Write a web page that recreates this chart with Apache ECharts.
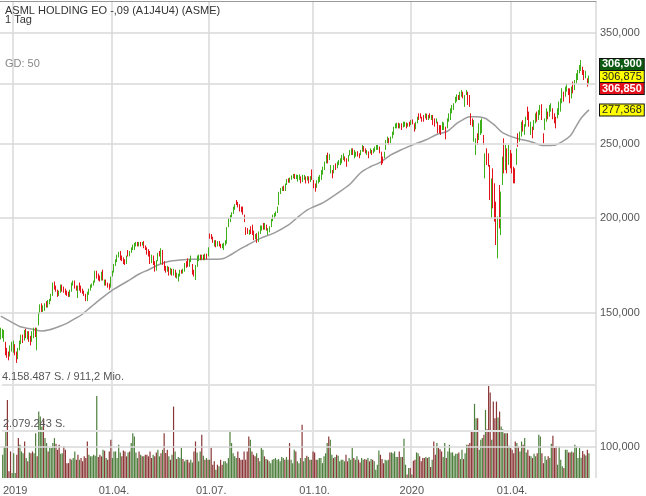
<!DOCTYPE html>
<html><head><meta charset="utf-8">
<script src="https://cdn.jsdelivr.net/npm/echarts@6/dist/echarts.min.js"></script>
<style>html,body{margin:0;padding:0;background:#fff}#c{width:646px;height:496px}</style>
</head><body><div id="c"></div>
<script>
// ---------- texts ----------
const titleText = 'ASML HOLDING EO -,09 (A1J4U4) (ASME)';
const periodText = '1 Tag';
const maLabel = 'GD: 50';
const turnoverText = '911,2 Mio.';

// ---------- calendar ----------
const startDate = '2018-12-14';
const totalSlots = 379;
const holidays = ['2018-12-24','2018-12-25','2018-12-26','2018-12-31','2019-01-01','2019-04-19','2019-04-22','2019-05-01',
  '2019-12-24','2019-12-25','2019-12-26','2019-12-31','2020-01-01','2020-04-10','2020-04-13','2020-05-01'];

// ---------- price axis ticks & tags ----------
const priceTicks = [100, 150, 200, 250, 300, 350];
const hiddenTickLabel = 300;
const tagHigh = 306.900, tagLast = 306.875, tagLow = 306.850, maLast = 277.368;
const volMaxK = 4158.487, volHalfK = 2079.243;

// ---------- daily candles [open, close, low, high] ----------
const ohlc = [
[139.5,142.5,138.5,143.5],[140,142,139,143],[138.5,141.5,137.5,142.5],[137,133,132,137.5],[134,132,131,135],
[133,131,130,133.5],[132,135,131.5,136],[134,137,133.5,137.5],[134,137.5,133,138],[136,133,132,136.5],
[133,130,129,133.5],[131,134.5,130.5,135],[134.5,137.5,134,138],[137,140,136.5,140.5],[140,138,137,140.5],
[138.5,142,138,142.5],[142.5,140,139,143],[139.5,141.5,138.5,142],[141.5,138.5,137.5,142],[139,137.5,136,140],
[138,141,137.5,142],[140,143,139,143.5],[143,140.5,139.5,143.5],[137,143,134,143.5],[145,150,144.5,150.5],
[150,153.5,149.5,154],[154,151.5,150.5,154.5],[151.5,153,150.5,153.5],[152,154,151,154.5],[155,153,152.5,155.5],
[153,155.5,152.5,156],[155,156,154,156.5],[156,158.5,155.5,159],[158.5,164,158,164.5],[164.5,162,161,165],
[162.5,160.5,160,163],[160.5,158.5,157.5,161],[158.5,160,158,160.5],[160,163,159.5,163.5],[163,161,160,163.5],
[161.5,160,159.5,162.5],[160.5,159,158.5,161.5],[160,158.5,158,160.5],[159.5,158,157.5,160],[158,160.5,157.5,161],
[160.5,164,160,164.5],[163.5,165,163,165.5],[165,162,161.5,165.5],[162.5,161,160.5,163],[160,162.5,157,163],
[163,161,160.5,164.5],[162,160,159.5,163],[161,159.5,159,161.5],[160,158.5,158,160.5],[158.5,156,155.5,159],
[156,159.5,155.5,160],[159,161,158.5,161.5],[161,163,160.5,163.5],[162.5,163.5,162,164],[163.5,165,163,165.5],
[165,170,164.5,170.5],[170,167,166.5,170.5],[168,166,165.5,169],[167,165.5,165,168],[166,169.5,165.5,170],
[170.5,166,165.5,171],[163.5,165.5,163,166],[165.5,163.5,163,166],[164,162.5,162,164.5],[163,162,161,164],
[162.5,167,162,167.5],[167.5,170,167.5,170.5],[170,173.5,169.5,174],[173.5,176,173,176.5],[175.5,178.5,175,179],
[178,180,177.5,180.5],[180.5,177,176,181],[178,176,175.5,178.5],[177,175,174,177.5],[176,174,173.5,176.5],
[174.5,178,174,178.5],[180.5,178.5,178,181.5],[178.5,180.5,178,181],[180.5,182.5,180,183],[182,184,181.5,184.5],
[183.5,185,181.5,185.5],[184,185.5,183.5,186],[185.5,184,183.5,186],[184,185.5,183.5,186],[185.5,184.5,183.5,186],
[184.5,185.5,184,186],[186,183,182.5,186.5],[183.5,182,181.5,184],[182.5,179.5,179,183],[181,178.5,178,182],
[180,175,174,181],[175,178,174.5,179],[178,174.5,173.5,178.5],[175,171,170,175.5],[171,175,170.5,176],
[176,179.5,175.5,180],[180,178.5,178,181],[176,182,174,182.5],[181,175,173.5,181.5],[175,171.5,170.5,175.5],
[172,170.5,169.5,173],[170.5,172,170,173],[172,169,168,172.5],[169,171.5,168.5,172],[171,168.5,168,171.5],
[168.5,171,168,171.5],[170.5,168,167,171],[167,169,166.5,169.5],[165.5,168.5,165,169],[168,170.5,167.5,171],
[170.5,169.5,169,171],[169.5,171,169,171.5],[170.5,174,170,174.5],[175,172.5,172,175.5],[175.5,173,172.5,177],
[173,176,172.5,176.5],[175.5,178,175,178.5],[173.5,169,168.5,174],[170,168.5,167.5,171],[167,173,165.8,173.5],
[173,177.5,172.5,178.5],[176,178.5,175.5,179],[178.5,176.5,176,179],[176.5,178.5,176,179],[178.5,176.5,176,179],
[176.5,179,176,179.5],[179,177,176.5,179.5],[178.5,182.5,178,183],[190.5,189,187.8,190.8],[190,188,187.5,190.5],
[188,186,185.5,189],[184,186.5,183.5,187],[186.5,184,183,187],[184,186,183.5,186.5],[186,184,183.5,186.5],
[184.5,183,182.5,185],[183,184.5,182.5,185],[182.5,185,181.5,185.5],[185,186.5,184,187],[185.5,194,185,194.5],
[195,199.5,194.5,200],[199,201,197.5,201.8],[200.5,203,200,203.5],[203,206.5,202.5,207],[206,208,205,208.5],
[210.5,208.5,208,211.2],[209.5,207.5,206.5,210],[208,205.5,204,208.5],[206,204,203.5,207],[206,202.5,202,207],
[201.5,198,197.5,202],[194,190.5,190,194.5],[193,191,190.5,194],[190.5,192.5,190,193],[194,191.5,190.5,195],
[195.5,191,190,196],[192,188,187,192.5],[188,190,187.5,190.5],[190,186,185.5,191],[186.5,191,186,192],
[191,194.5,190.5,195.5],[193.5,195,192.5,195.5],[196.5,193.5,193,197],[193.5,196,193,197],[195.5,193,192.5,196],
[190.5,193.5,190,194],[192,194.5,191.5,195],[195,199,194.5,199.5],[199,201.5,198,202],[200.5,202.5,199.5,203],
[202,203.5,201,204],[203.5,206.5,203,207],[208.5,216,208,216.5],[215.5,218.5,215,219],[217.5,219.5,217,220],
[220,217.5,217,220.5],[217.5,221.5,217,222],[221.5,224.5,221,225],[225,223,222.5,225.5],[223,225.5,222.5,226],
[225,227,224.5,227.5],[226.5,228,225.5,228.5],[227.5,226,225,228.5],[225.5,227.5,225,228],[224,227,223.2,227.8],
[225,227.5,224.4,228.2],[226.5,223,222.1,226.8],[223.5,227,223,227.8],[225,227.5,224.4,227.8],[226.5,223,222,226.8],
[224,226.5,224,227],[226.5,223.5,222,226.8],[223.5,225.5,223,227],[231,225,224.4,231.6],[224,219.5,218.8,224.4],
[221,217.5,216.6,222],[219.5,223.5,219,224.2],[222.5,226,222,226.6],[224,227,223,227.8],[225,230.5,224.4,231.2],
[229.5,233,228,233.5],[232,236.5,231.2,237.2],[236,241.5,235.9,242],[243.5,236.5,235.9,243.7],[239,242,238.3,242.7],
[230,234,228.9,234.7],[231,226.5,225.5,231.2],[229,233.5,228.9,234.7],[235.5,232,231.2,235.9],[233,236,232.4,237.2],
[235,237.5,234.7,238.3],[236.5,239,234.7,239.6],[237,241.5,235.9,242],[240,242.5,238.3,243.2],[240.5,238,237.2,241],
[239,234.5,233.5,239.6],[237.5,241,237.2,242],[242,245,241.5,245.7],[243,246.5,242,246.9],[246.5,243,242,246.9],
[240.5,244.5,239.6,245.7],[242,244,240.8,244.4],[244.4,241.5,240.8,244.8],[243,240,239.6,243.2],[242,245,241.8,245.7],
[245.5,248.5,244.4,249.4],[248.2,245.5,244.4,248.6],[246.5,243.5,243.2,246.9],[242.5,245,242,245.7],[244.4,240.5,239.6,244.6],
[243.2,246.5,243,246.9],[245.5,242.5,242,245.7],[243.5,246.5,243.2,246.9],[245,248,244.4,248.2],[246,249,245.7,249.4],
[246,249,245.7,249.4],[248,244,243.2,248.2],[244,236,234.7,244.4],[240.5,237,235.9,240.8],[240,243.5,239.6,244.4],
[246,252.5,245.7,253.2],[251.5,255,250.7,255.8],[254.5,251,249.4,254.8],[251,255,250.7,255.8],[255,259,254.5,259.7],
[258,263,257.1,263.6],[262.5,265.5,262.3,266.3],[264,266,262.3,266.8],[266,263,262.3,266.8],[263,265.5,262.3,266.3],
[265.5,262,261,266.3],[263,266.5,263,267.6],[265,267,263.6,267.6],[266.8,263.5,262.3,267],[264,266,263.6,266.5],
[267,264.5,263.6,267.6],[265.5,268.5,264.9,269],[268.5,266.5,265.5,269.5],[266,260.5,259.7,266.3],[262,267,261.5,267.6],
[267,271,266.3,271.7],[274,270.5,269,274.5],[273.5,271.5,270.3,274.5],[271.5,268.5,267.6,271.7],[272.5,268.5,267.6,273.1],
[270.5,274,270.3,274.5],[274,270,269,274.2],[270,273,269,273.1],[274,271,270.3,274.5],[270.5,273,269,273.1],
[273,265.5,264.9,273.1],[269.5,264,263.6,270.3],[266.5,270,266.3,270.3],[267.5,259,258.4,267.6],[264,259.5,258.4,264.9],
[264.5,258,257.1,264.9],[261,266.5,261,267.6],[262,266,261,267],[263.5,255.5,253.7,263.6],[262.5,270,262.3,270.3],
[268,274,267.6,274.5],[270,278,269,278.7],[275.5,281,274.5,281.5],[278.5,282.5,277.3,283],[283.5,288,283,288.6],
[285,290,284.4,290.7],[290,286.5,285.8,290.1],[287,292.5,285.8,293],[290,294,288.6,294.6],[293,288,287.2,293],
[281,289.5,279.9,290.1],[290.5,294,290.1,294.6],[293,282.5,281.5,293],[289.5,281,279.9,290.1],[274,266,264.9,274.5],
[269.5,264.5,263.6,270.3],[253,268,251.9,268.9],[243,253.5,242,254.5],[258,250,249.4,258.4],[254,265.5,253.2,266.3],
[259,268,257.1,268.9],[261,269.5,258.4,270.3],[256.5,250,249.4,257.1],[228,242,225.5,243.2],[246.5,236,234.8,246.9],
[242.5,234.5,233.6,243.2],[234,213,211.2,234.8],[203,224,199.8,225.4],[232,207,205.9,232.4],[221,200,197.8,222.1],
[209.5,186,184.3,210.1],[180,200,177,200.8],[220,195,193.8,221],[191,215.5,189.9,216.6],[222,240,221,240.8],
[253.5,230,228.9,254.5],[232,248.5,231.2,249.4],[246,230,228.9,246.9],[236,248.5,234.8,249.4],[245,233.5,232.4,245.7],
[242,230,228.9,243.2],[233,223,222.1,233.6],[231.5,223.5,222.1,232.4],[236,246,234.8,246.9],[258,249.5,248.1,258.4],
[252.5,259,251.9,259.7],[257,267,255.8,267.6],[268.5,260.5,259.7,268.9],[258,265,257.1,265.6],[265,271,263.6,271.7],
[280,270.5,269,280.1],[275.5,265,263.6,275.9],[258,266.5,257.1,267.6],[263,255.5,254.5,263.6],[262,268.5,261,268.9],
[267,274,266.3,274.5],[275.5,268.5,267.6,275.9],[270,276.5,269,277.3],[274.5,281,273.1,281.5],[281.5,270.5,269,282.2],
[258,251.5,250.6,258.4],[262,269.5,261,270.3],[269,278,267.6,278.7],[275.5,270.5,269.6,275.9],[272.5,281,271.7,281.5],
[277,282.5,275.9,283],[278.5,270.5,269.6,278.7],[274,267.5,266.3,274.5],[271,263,262.3,271.7],[271,278,270.3,278.7],
[274.5,283.5,273.1,284.4],[277,286.5,275.9,287.2],[285,295,283,296.1],[293,285.5,284.4,293.1],[290,297,288.7,297.6],
[294,300,293.1,300.6],[296,291,290.1,296.1],[295.5,284.5,283,296.1],[288,297,287.2,297.6],[301.5,292.5,291.6,302.1],
[295.5,303,294.6,303.6],[301.5,309,300.6,309.8],[305,312,303.6,313],[311,316,309.8,317.7],[313.5,321.5,312,322.5],
[316,309,308.3,316.1],[312,305,303.6,313],[306,311.5,305.2,312.2],[305,298.5,297.6,305.2],[300.5,306.875,299.5,307.7]
];

// ---------- daily volume, thousand shares ----------
const volumeK = [
1030,1400,2060,3460,300,1180,220,1100,220,1030, 1770,1475,1180,1100,1620,885,740,1135,1100,1180,
1100,1990,960,2950,2730,2290,2650,1770,1550,1180, 1330,1330,1550,1770,1520,1250,1475,1075,1100,1400,
1250,660,660,855,810,885,1180,810,1030,810, 885,740,960,885,1620,1030,960,960,1030,990,
3640,930,1030,960,1250,1210,885,810,1180,1700, 885,1180,1180,885,1475,1135,960,1225,1180,960,
1135,1180,1550,1990,1840,1135,885,1180,1030,960, 960,1030,1030,960,1180,885,1030,960,1135,1250,
960,1100,1250,1990,1106,1250,960,810,1030,3170, 1180,840,930,885,1330,840,740,810,810,690,
810,690,1180,1620,1135,740,1180,1920,990,810, 885,810,810,1330,590,740,370,590,516,810,
590,740,740,660,885,2060,1550,1100,960,885, 1180,885,810,810,1180,810,1180,1840,1700,1180,
1030,960,1100,885,740,1330,1250,960,840,810, 740,660,810,840,885,810,840,740,930,885,
810,930,810,1550,810,660,1250,1180,740,660, 885,2360,740,885,990,930,810,810,1180,1135,
810,810,885,885,660,960,1100,1550,1840,1700, 1030,885,930,1030,990,740,810,810,740,1030,
740,885,810,1330,885,810,960,810,690,885, 810,840,810,885,740,840,810,740,370,590,
1225,1030,840,660,810,780,810,1135,1135,1100, 1180,930,930,1180,930,930,1740,590,150,440,
440,150,770,810,1135,1100,960,740,885,885, 930,885,930,490,810,1620,1030,1550,1330,1280,
1180,930,1550,885,1180,1475,1135,1135,990,1075, 1075,1135,840,1250,840,1100,1475,1475,1550,2110,
2060,3290,2650,2650,1250,1700,1770,1920,3020,2160, 4158.487,3790,1700,3390,2650,3390,2690,2950,2290,2160,
1990,1990,1990,1430,1330,1250,1100,1620,1550,1400, 1180,1620,1475,1770,1135,1250,990,960,885,1075,
960,1100,1920,1840,1100,660,960,810,960,885, 1520,1870,1330,1400,590,1400,810,516,440,1250,
1250,1135,1135,1180,1135,1475,1400,885,1330,900, 1200,1050,1000,1250,1100
];

// ---------- 50-day average: [day index, value] ----------
const maPoints = [
[0,148.6],[8,145.5],[12,144.0],[21,142.7],[26,142.1],[31,142.6],[37,144.0],[42,145.4],[48,147.8],[51,149.0],
[55,151.4],[59,153.8],[63,156.2],[71,160.8],[80,164.9],[88,168.8],[94,171.0],[100,173.5],[106,175.2],[114,176.1],
[122,176.5],[133,176.5],[141,176.8],[146,178.8],[151,181.5],[157,184.3],[165,188.0],[174,191.2],[183,195.8],[188,199.8],
[195,204.9],[199,206.9],[205,209.5],[214,215.5],[222,221.5],[229,229.5],[235,233.5],[241,236.5],[248,242.0],[254,245.5],
[262,249.5],[270,253.2],[278,257.8],[284,260.0],[290,266.3],[294,269.3],[298,271.7],[303,271.6],[308,270.4],[311,267.8],
[314,264.9],[319,259.0],[328,254.5],[337,251.9],[345,249.0],[352,249.2],[357,251.9],[362,256.3],[365,262.0],[369,270.4],
[374,277.368]
];

// ---------- build ----------
const FONT = '"Liberation Sans", Arial, sans-serif';
const fmtPrice = v => v.toFixed(3).replace('.', ',');
const fmtShares = k => String(Math.round(k * 1000)).replace(/\B(?=(\d{3})+(?!\d))/g, '.') + ' S.';

function buildDates() {
  const hol = new Set(holidays);
  const out = [];
  const d = new Date(startDate + 'T00:00:00Z');
  while (out.length < totalSlots) {
    const wd = d.getUTCDay();
    const iso = d.toISOString().slice(0, 10);
    if (wd !== 0 && wd !== 6 && !hol.has(iso)) out.push(iso);
    d.setUTCDate(d.getUTCDate() + 1);
  }
  return out;
}
const dates = buildDates();
const markIdx = new Set();
for (let i = 1; i < dates.length; i++) {
  const m = dates[i].slice(5, 7);
  if (m !== dates[i - 1].slice(5, 7) && ['01', '04', '07', '10'].includes(m)) markIdx.add(i);
}
const isMark = idx => markIdx.has(idx);
const dateLabel = val => { const p = val.split('-'); return p[1] === '01' ? p[0] : '01.' + p[1] + '.'; };

const maData = new Array(ohlc.length).fill(null);
maPoints.forEach(([i, v]) => { maData[i] = v; });

const UP = '#3daf18', DOWN = '#e4121b', VUP = '#4e7f3d', VDOWN = '#8b3636';
const volData = volumeK.map((v, i) => ({
  value: v,
  itemStyle: { color: ohlc[i][1] >= ohlc[i][0] ? VUP : VDOWN }
}));

const gridLines = priceTicks.map(v => ({
  yAxis: v,
  lineStyle: { color: '#d9d9d9', width: 1.5, type: 'solid' },
  label: { show: v !== hiddenTickLabel, position: 'end', distance: 4, formatter: fmtPrice(v),
           color: '#555', fontSize: 11, fontFamily: FONT }
}));
const tag = (val, text, bg, fg, dy, bold) => ({
  yAxis: val,
  lineStyle: { color: 'rgba(0,0,0,0)', width: 1 },
  label: { show: true, position: 'end', distance: 4, formatter: text, offset: [0, dy],
           backgroundColor: bg, color: fg, borderColor: '#111', borderWidth: 1,
           padding: [0, 2, 0, 2], lineHeight: 11, fontSize: 11, fontFamily: FONT,
           fontWeight: bold ? 'bold' : 'normal' }
});

const chart = echarts.init(document.getElementById('c'), null, { renderer: 'canvas' });
chart.setOption({
  animation: false,
  backgroundColor: '#fff',
  textStyle: { fontFamily: FONT },
  graphic: [
    { type: 'text', left: 5, top: 5, z: 100, style: { text: titleText, fill: '#333', font: '11px ' + FONT } },
    { type: 'text', left: 5, top: 14, z: 100, style: { text: periodText, fill: '#333', font: '11px ' + FONT } },
    { type: 'text', left: 5, top: 58, z: 100, style: { text: maLabel, fill: '#888', font: '11px ' + FONT } }
  ],
  grid: [
    { left: 0, top: 1, width: 596, height: 477 },
    { left: 0, top: 384.3, width: 596, height: 94 }
  ],
  xAxis: [
    { type: 'category', gridIndex: 0, data: dates, position: 'top', boundaryGap: true,
      axisLine: { show: true, lineStyle: { color: '#999', width: 1 } },
      axisTick: { show: false }, axisLabel: { show: false },
      splitLine: { show: true, interval: isMark, lineStyle: { color: '#d9d9d9', width: 1.5 } } },
    { type: 'category', gridIndex: 1, data: dates, boundaryGap: true,
      axisLine: { show: false }, axisTick: { show: false },
      axisLabel: { show: true, interval: isMark, formatter: dateLabel, color: '#555', fontSize: 11,
                   fontFamily: FONT, margin: 7 },
      splitLine: { show: false } }
  ],
  yAxis: [
    { type: 'log', logBase: 10, gridIndex: 0, min: 91.06, max: 385.6, position: 'right',
      axisLine: { show: false }, axisTick: { show: false }, axisLabel: { show: false }, splitLine: { show: false } },
    { type: 'value', gridIndex: 1, min: 0, max: volMaxK,
      axisLine: { show: false }, axisTick: { show: false }, axisLabel: { show: false }, splitLine: { show: false } }
  ],
  series: [
    { type: 'line', name: 'GD 50', xAxisIndex: 0, yAxisIndex: 0, data: maData, connectNulls: true,
      symbol: 'none', smooth: 0.3, z: 2,
      lineStyle: { color: '#9c9c9c', width: 1.5 },
      markLine: { silent: true, symbol: ['none', 'none'], animation: false, precision: 3,
        data: gridLines.concat([
          tag(tagHigh, fmtPrice(tagHigh), '#0e5a12', '#fff', -12, true),
          tag(tagLast, fmtPrice(tagLast), '#ffff00', '#222', 0, false),
          tag(tagLow, fmtPrice(tagLow), '#e3101c', '#fff', 12, true),
          tag(maLast, fmtPrice(maLast), '#ffff00', '#222', 0, false)
        ]) } },
    { type: 'candlestick', name: 'ASML', xAxisIndex: 0, yAxisIndex: 0, data: ohlc, barWidth: 1, z: 3,
      itemStyle: { color: UP, color0: DOWN, borderColor: UP, borderColor0: DOWN, borderWidth: 1 } },
    { type: 'line', xAxisIndex: 1, yAxisIndex: 1, data: [], z: 1,
      markLine: { silent: true, symbol: ['none', 'none'], animation: false, precision: 3,
        lineStyle: { color: '#e2e2e2', width: 2, type: 'solid' },
        data: [
          { yAxis: volMaxK, label: { position: 'insideStartTop', distance: [0, 2], formatter: fmtShares(volMaxK) + ' / ' + turnoverText,
              color: '#555', fontSize: 11, fontFamily: FONT } },
          { yAxis: volHalfK, label: { position: 'insideStartTop', distance: [1, 2], formatter: fmtShares(volHalfK),
              color: '#555', fontSize: 11, fontFamily: FONT } }
        ] } },
    { type: 'bar', name: 'Volumen', xAxisIndex: 1, yAxisIndex: 1, data: volData, barWidth: 1.2, z: 3 }
  ]
});
</script></body></html>
